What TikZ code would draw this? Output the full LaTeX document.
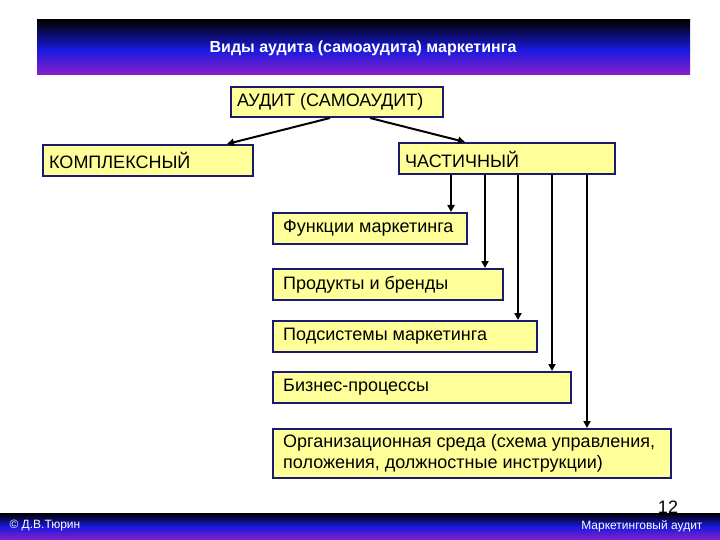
\documentclass[tikz,border=0pt]{standalone}
\usepackage{fontspec}
\setmainfont{Liberation Sans}
\usetikzlibrary{arrows.meta}
\definecolor{bx}{HTML}{FFFF99}
\definecolor{bd}{HTML}{1A1A6E}
\definecolor{bblue}{HTML}{1A1AE0}
\definecolor{bpurp}{HTML}{8A20C8}
\tikzset{
 boxn/.style={draw=bd,line width=2pt,fill=bx,anchor=north west,inner sep=0pt},
 lbl/.style={anchor=west,xshift=5pt,inner sep=2pt},
 arr/.style={line width=2pt,-{Triangle[length=7pt,width=7pt]}}
}
\begin{document}
\begin{tikzpicture}[x=1pt,y=-1pt,font=\fontsize{18}{21}\selectfont]
\useasboundingbox (0,0) rectangle (720,540);
\fill[white] (0,0) rectangle (720,540);
% banner
\shade[top color=black,bottom color=bblue] (37,20) rectangle (690,50);
\shade[top color=bblue,bottom color=bpurp] (37,50) rectangle (690,75);
\node[text=white,font=\bfseries\fontsize{16}{18}\selectfont] (title) at (363,48) {Виды аудита (самоаудита) маркетинга};
% footer
\shade[top color=black,bottom color=bblue] (0,513) rectangle (720,527);
\shade[top color=bblue,bottom color=bpurp] (0,527) rectangle (720,540);
\node[text=white,anchor=west,font=\fontsize{12}{14}\selectfont] (copy) at (6,526) {© Д.В.Тюрин};
\node[text=white,anchor=east,font=\fontsize{12}{14}\selectfont] (mk) at (706,526) {Маркетинговый аудит};
\node[font=\fontsize{18}{20}\selectfont] (pg) at (668,507) {12};
% boxes
\node[boxn,minimum width=212pt,minimum height=30pt] (a) at (230,86) {};
\node[lbl] at (a.west) {АУДИТ (САМОАУДИТ)};
\node[boxn,minimum width=210pt,minimum height=31pt] (k) at (42,144) {};
\node[lbl] at (k.west) {КОМПЛЕКСНЫЙ};
\node[boxn,minimum width=216pt,minimum height=31pt] (c) at (398,142) {};
\node[lbl] at ([yshift=-1pt]c.west) {ЧАСТИЧНЫЙ};
\node[boxn,minimum width=194pt,minimum height=31pt] (f) at (272,212) {};
\node[lbl,xshift=4pt] at (f.west) {Функции маркетинга};
\node[boxn,minimum width=230pt,minimum height=31pt] (p) at (272,268) {};
\node[lbl,xshift=4pt] at (p.west) {Продукты и бренды};
\node[boxn,minimum width=264pt,minimum height=31pt] (s) at (272,320) {};
\node[lbl,xshift=4pt] at (s.west) {Подсистемы маркетинга};
\node[boxn,minimum width=298pt,minimum height=31pt] (b) at (272,371) {};
\node[lbl,xshift=4pt] at (b.west) {Бизнес-процессы};
\node[boxn,minimum width=398pt,minimum height=49pt] (o) at (272,428) {};
\node[lbl,xshift=4pt,align=left] at (o.west) {Организационная среда (схема управления,\\положения, должностные инструкции)};
% connectors
\draw[arr] ([xshift=-7pt]a.south) -- ([xshift=-27pt]k.north east);
\draw[arr] ([xshift=33pt]a.south) -- ([xshift=67pt]c.north west);
\draw[arr] (c.south west -| 451,0) -- (f.north west -| 451,0);
\draw[arr] (c.south west -| 485,0) -- (p.north west -| 485,0);
\draw[arr] (c.south west -| 518,0) -- (s.north west -| 518,0);
\draw[arr] (c.south west -| 552,0) -- (b.north west -| 552,0);
\draw[arr] (c.south west -| 587,0) -- (o.north west -| 587,0);
\end{tikzpicture}
\end{document}
